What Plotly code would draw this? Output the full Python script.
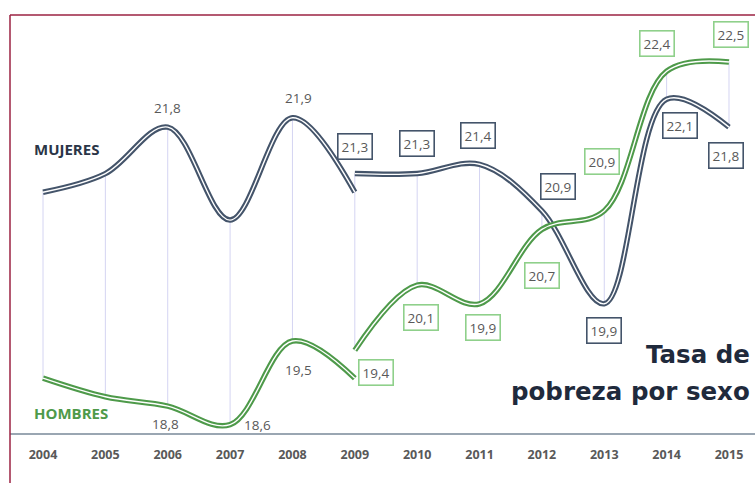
import plotly.graph_objects as go

# ---------------- data ----------------
years_old = [2004, 2005, 2006, 2007, 2008, 2009]
mujeres_old = [21.1, 21.3, 21.8, 20.8, 21.9, 21.1]
hombres_old = [19.1, 18.9, 18.8, 18.6, 19.5, 19.1]

years_new = [2009, 2010, 2011, 2012, 2013, 2014, 2015]
mujeres_new = [21.3, 21.3, 21.4, 20.9, 19.9, 22.1, 21.8]
hombres_new = [19.4, 20.1, 19.9, 20.7, 20.9, 22.4, 22.5]

tick_years = list(range(2004, 2016))
tick_labels = [str(y) for y in tick_years]

NAVY = "#44546A"
GREEN = "#4E9A4A"
GREEN_BOX = "#8FD08B"
LABEL = "#595959"

fig = go.Figure()

# drop lines between series
dx, dy = [], []
for yr, m, h in zip(years_old[:-1], mujeres_old[:-1], hombres_old[:-1]):
    dx += [yr, yr, None]
    dy += [m, h, None]
for yr, m, h in zip(years_new, mujeres_new, hombres_new):
    dx += [yr, yr, None]
    dy += [m, h, None]
fig.add_trace(go.Scatter(x=dx, y=dy, mode="lines",
                         line=dict(color="#D4D4F2", width=1),
                         hoverinfo="skip", showlegend=False))

def double_line(x, y, color):
    fig.add_trace(go.Scatter(x=x, y=y, mode="lines",
                             line=dict(color=color, width=5.5, shape="spline", smoothing=1.0),
                             showlegend=False))
    fig.add_trace(go.Scatter(x=x, y=y, mode="lines",
                             line=dict(color="white", width=1.4, shape="spline", smoothing=1.0),
                             showlegend=False, hoverinfo="skip"))

double_line(years_old, mujeres_old, NAVY)
double_line(years_old, hombres_old, GREEN)
double_line(years_new, mujeres_new, NAVY)
double_line(years_new, hombres_new, GREEN)

def fmt(v):
    return f"{v:.1f}".replace(".", ",")

annotations = []

# plain labels (old series)
plain = [
    (2006, mujeres_old[2], 0, 19),
    (2008, mujeres_old[4], 6, 20),
    (2006, hombres_old[2], -2, -18),
    (2007, hombres_old[3], 27, 0),
    (2008, hombres_old[4], 6, -29),
]
for x, v, xs, ys in plain:
    annotations.append(dict(x=x, y=v, text=fmt(v), showarrow=False,
                            xshift=xs, yshift=ys,
                            font=dict(family="Open Sans", size=13.5, color=LABEL)))

# boxed labels (new series)
muj_shifts = [(0, 27), (0, 30), (-2, 29), (16, 24), (0, -27), (13, -26), (-3, -28)]
hom_shifts = [(21, -22), (4, -32), (3, -24), (0, -46), (-2, 49), (-10, 28), (2, 28)]
for (x, v), (xs, ys) in zip(zip(years_new, mujeres_new), muj_shifts):
    annotations.append(dict(x=x, y=v, text=fmt(v), showarrow=False,
                            xshift=xs, yshift=ys, bgcolor="white",
                            bordercolor=NAVY, borderwidth=1.6, borderpad=3,
                            font=dict(family="Open Sans", size=13.5, color=LABEL)))
for (x, v), (xs, ys) in zip(zip(years_new, hombres_new), hom_shifts):
    annotations.append(dict(x=x, y=v, text=fmt(v), showarrow=False,
                            xshift=xs, yshift=ys, bgcolor="white",
                            bordercolor=GREEN_BOX, borderwidth=1.6, borderpad=3,
                            font=dict(family="Open Sans", size=13.5, color=LABEL)))

# series names
annotations.append(dict(xref="paper", yref="paper", x=0.0752, y=0.6559,
                        xanchor="center", yanchor="middle",
                        text="MUJERES", showarrow=False,
                        font=dict(family="Open Sans", size=15, color="#2B3547", weight="bold")))
annotations.append(dict(xref="paper", yref="paper", x=0.0819, y=0.0462,
                        xanchor="center", yanchor="middle",
                        text="HOMBRES", showarrow=False,
                        font=dict(family="Open Sans", size=15, color=GREEN, weight="bold")))

# title
annotations.append(dict(xref="paper", yref="paper", x=0.996, y=0.1824,
                        xanchor="right", yanchor="middle",
                        text="Tasa de", showarrow=False,
                        font=dict(family="DejaVu Sans", size=24.5, color="#1F2A3C", weight="bold")))
annotations.append(dict(xref="paper", yref="paper", x=0.996, y=0.0947,
                        xanchor="right", yanchor="middle",
                        text="pobreza por sexo", showarrow=False,
                        font=dict(family="DejaVu Sans", size=24.5, color="#1F2A3C", weight="bold")))

shapes = [
    dict(type="line", xref="paper", yref="paper", x0=0, x1=0, y0=-0.2, y1=0.9654,
         line=dict(color="#9B2242", width=1.5)),
    dict(type="line", xref="paper", yref="paper", x0=0, x1=1.02, y0=0.9654, y1=0.9654,
         line=dict(color="#9B2242", width=1.5)),
]

fig.update_layout(
    width=755, height=483,
    margin=dict(l=10, r=0, t=0, b=50),
    paper_bgcolor="white", plot_bgcolor="white",
    showlegend=False,
    annotations=annotations,
    shapes=shapes,
    xaxis=dict(range=[2003.4708, 2015.417], tickmode="array",
               tickvals=tick_years, ticktext=tick_labels,
               showgrid=False, zeroline=False,
               showline=True, linecolor="#9AA6B2", linewidth=1.5,
               ticks="outside", ticklen=9, tickcolor="rgba(0,0,0,0)",
               tickfont=dict(family="Open Sans", size=12.5, color=LABEL, weight="bold")),
    yaxis=dict(range=[18.5108, 23.1667], visible=False, showgrid=False, zeroline=False),
)

fig.write_html("out.html", config={"displayModeBar": False},
               post_script="document.body.style.margin='0';document.body.style.overflow='hidden';")
